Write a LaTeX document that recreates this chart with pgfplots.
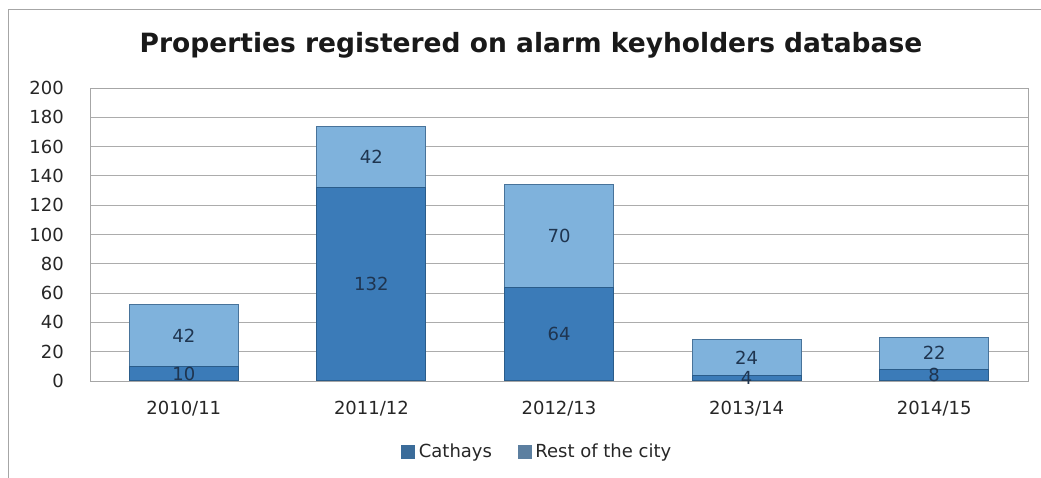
\documentclass[border=0pt]{standalone}
\usepackage{pgfplots}
\pgfplotsset{compat=1.18}
\usepackage{fontspec}
\setmainfont{DejaVu Sans}
\definecolor{cathE}{HTML}{2A5C8A}
\definecolor{cathM}{HTML}{3B7BB8}
\definecolor{restE}{HTML}{5A90C0}
\definecolor{restM}{HTML}{7FB2DC}
\definecolor{lbl}{HTML}{1F3550}
\definecolor{legC}{HTML}{3B6C9A}
\definecolor{legR}{HTML}{5C7FA0}
\begin{document}
\begin{tikzpicture}[x=1pt,y=1pt]
\path[use as bounding box] (0,0) rectangle (1041,478);
\draw[gray!70, line width=1pt] (8,0) -- (8,468) -- (1041,468);
\node[font=\bfseries\fontsize{26.5}{30}\selectfont, text=black!90] at (531,433) {Properties registered on alarm keyholders database};
\begin{axis}[
  at={(90pt,97pt)}, anchor=south west,
  width=938pt, height=293pt, scale only axis,
  ybar stacked, bar width=109pt,
  xmin=-0.5, xmax=4.5, ymin=0, ymax=200,
  ytick={0,20,...,200},
  xtick={0,1,2,3,4},
  xticklabels={2010/11,2011/12,2012/13,2013/14,2014/15},
  ymajorgrids, grid style={gray!65, line width=0.8pt},
  axis line style={gray!70, line width=0.8pt},
  tick style={draw=none},
  /pgf/number format/assume math mode=true,
  yticklabel style={font=\fontsize{18}{22}\selectfont, inner sep=0pt, xshift=-26pt, text=black!85},
  xticklabel style={font=\fontsize{18}{22}\selectfont, inner sep=0pt, yshift=-20pt, text=black!85},
]
\addplot[draw=cathE, line width=1pt, fill=cathM]
  coordinates {(0,10) (1,132) (2,64) (3,4) (4,8)};
\addplot[draw=restE!80!black, line width=1pt, fill=restM]
  coordinates {(0,42) (1,42) (2,70) (3,24) (4,22)};
\end{axis}
\begin{axis}[
  at={(90pt,97pt)}, anchor=south west,
  width=938pt, height=293pt, scale only axis,
  xmin=-0.5, xmax=4.5, ymin=0, ymax=200, hide axis,
  nodes near coords, point meta=explicit symbolic,
  every node near coord/.style={anchor=center, font=\fontsize{18}{22}\selectfont, text=lbl},
  legend style={draw=none, fill=none, at={(0.478,-0.242)}, anchor=center,
    legend columns=2, font=\fontsize{18}{22}\selectfont, text=black!85,
    nodes={inner xsep=4pt},
    /tikz/every even column/.append style={column sep=22pt}},
]
\addlegendimage{legend image code/.code={\fill[legC] (0pt,-6pt) rectangle (13pt,7pt);}}
\addlegendentry{Cathays}
\addlegendimage{legend image code/.code={\fill[legR] (0pt,-6pt) rectangle (13pt,7pt);}}
\addlegendentry{Rest of the city}
\addplot[only marks, mark=none, forget plot] table[meta=lab] {
x y lab
0 5 10
0 31 42
1 66 132
1 153 42
2 32 64
2 99 70
3 2 4
3 16 24
4 4 8
4 19 22
};
\end{axis}
\end{tikzpicture}
\end{document}
